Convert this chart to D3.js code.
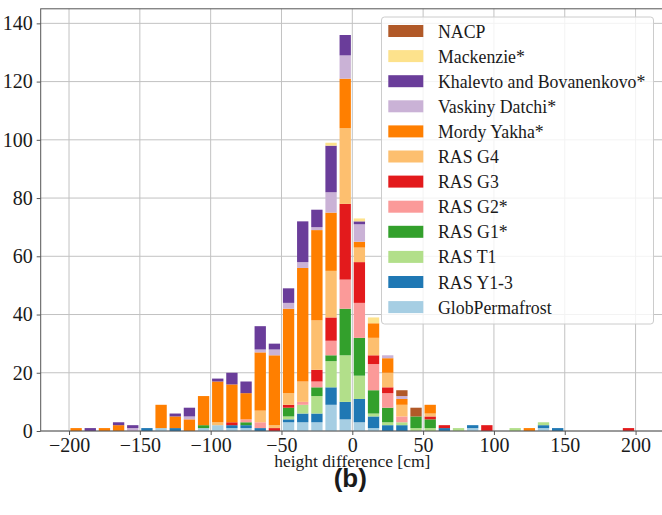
<!DOCTYPE html>
<html>
<head>
<meta charset="utf-8">
<script src="https://cdn.jsdelivr.net/npm/d3@7"></script>
<style>
    body { margin: 0; background: #fff; }
    svg text { font-family: "Liberation Serif", "Times New Roman", serif; fill: #1a1a1a; }
</style>
</head>
<body>
<svg id="chart" width="662" height="515"></svg>
<script>

// bin left edges, 10 cm wide
var binStarts = [-200, -190, -180, -170, -160, -150, -140, -130, -120, -110,
                 -100, -90, -80, -70, -60, -50, -40, -30, -20, -10,
                 0, 10, 20, 30, 40, 50, 60, 70, 80, 90,
                 100, 110, 120, 130, 140, 150, 160, 170, 180, 190];

// counts per bin, one array per site
var globPermafrost = [0,0,0,0,0,0,1,0,0,1, 2,1,1,0,0,3,3,3,9,4, 3,1,0,0,0,0,0,0,1,0, 0,0,0,1,0,0,0,0,0,0];
var rasY13         = [0,0,0,0,0,1,0,1,0,0, 0,1,1,1,0,1,3,3,6,6, 8,4,2,2,0,0,1,0,1,0, 0,0,0,1,1,0,0,0,0,0];
var rasT1          = [0,0,0,0,0,0,0,0,0,0, 0,0,0,0,0,1,3,6,9,16, 8,1,1,1,1,1,0,1,0,0, 0,1,0,1,0,0,0,0,0,0];
var rasG1          = [0,0,0,0,0,0,0,0,0,1, 0,0,1,0,0,3,0,3,2,16, 13,8,5,0,4,3,0,0,0,0, 0,0,0,0,0,0,0,0,0,0];
var rasG2          = [0,0,0,0,0,0,0,0,0,0, 0,0,1,2,0,0,1,2,5,10, 12,9,5,2,0,0,0,0,0,0, 0,0,0,0,0,0,0,0,0,0];
var rasG3          = [0,0,0,0,0,0,0,0,0,0, 0,1,0,0,1,1,0,4,8,26, 14,3,2,0,0,1,1,0,0,2, 0,0,0,0,0,0,0,0,0,1];
var rasG4          = [0,0,0,0,0,0,0,0,0,0, 1,0,0,4,1,4,7,17,16,26, 5,6,5,4,0,1,0,0,0,0, 0,0,0,0,0,0,0,0,0,0];
var mordyYakha     = [1,0,1,2,0,0,8,4,4,10, 14,13,9,20,24,29,39,31,20,17, 2,5,5,2,0,3,0,0,0,0, 0,0,1,0,0,0,0,0,0,0];
var vaskinyDatchi  = [0,0,0,0,1,0,0,0,1,0, 0,0,0,1,2,2,2,1,7,8, 6,0,1,1,0,0,0,0,0,0, 0,0,0,0,0,0,0,0,0,0];
var khalevto       = [0,1,0,1,1,0,0,1,3,0, 1,4,4,8,2,5,14,6,16,7, 1,0,0,0,0,0,0,0,0,0, 0,0,0,0,0,0,0,0,0,0];
var mackenzie      = [0,0,0,0,0,0,0,0,0,0, 0,0,0,0,0,0,0,0,1,0, 1,2,0,0,0,0,0,0,0,0, 0,0,0,0,0,0,0,0,0,0];
var nacp           = [0,0,0,0,0,0,0,0,0,0, 0,0,0,0,0,0,0,0,0,0, 0,0,0,2,3,0,0,0,0,0, 0,0,0,0,0,0,0,0,0,0];

// stacking order, bottom first
var seriesNames = ['GlobPermafrost', 'RAS Y1-3', 'RAS T1', 'RAS G1*', 'RAS G2*', 'RAS G3',
                   'RAS G4', 'Mordy Yakha*', 'Vaskiny Datchi*', 'Khalevto and Bovanenkovo*',
                   'Mackenzie*', 'NACP'];
var seriesValues = [globPermafrost, rasY13, rasT1, rasG1, rasG2, rasG3,
                    rasG4, mordyYakha, vaskinyDatchi, khalevto, mackenzie, nacp];
var seriesColors = ['#a6cee3', '#1f78b4', '#b2df8a', '#33a02c', '#fb9a99', '#e31a1c',
                    '#fdbf6f', '#ff7f00', '#cab2d6', '#6a3d9a', '#fde28c', '#b15928'];

var xTicks = [-200, -150, -100, -50, 0, 50, 100, 150, 200];
var yTicks = [0, 20, 40, 60, 80, 100, 120, 140];

var _svg = d3.select('#chart');
var _plot = {left: 40.7, right: 663.9, top: 8.8, bottom: 431};
var _binWidth = 10;

var x = d3.scaleLinear().domain([-220, 220]).range([_plot.left, _plot.right]);
var y = d3.scaleLinear().domain([0, 145]).range([_plot.bottom, _plot.top]);

// table for d3.stack
var table = binStarts.map(function (s, i) {
    var row = {start: s};
    seriesNames.forEach(function (name, k) {
        row[name] = seriesValues[k][i];
    });
    return row;
});
var stacked = d3.stack().keys(seriesNames)(table);

//---------------------------------------------------------------------------------------
// GRID
//---------------------------------------------------------------------------------------

var grid = _svg.append('g').attr('class', 'grid');
grid.selectAll('.vgrid')
    .data(xTicks)
  .enter().append('line')
    .attr('x1', function (d) { return x(d); })
    .attr('x2', function (d) { return x(d); })
    .attr('y1', _plot.top)
    .attr('y2', _plot.bottom)
    .style('stroke', '#c2c2c2')
    .style('stroke-width', 1);
grid.selectAll('.hgrid')
    .data(yTicks)
  .enter().append('line')
    .attr('x1', _plot.left)
    .attr('x2', _plot.right)
    .attr('y1', function (d) { return y(d); })
    .attr('y2', function (d) { return y(d); })
    .style('stroke', '#c2c2c2')
    .style('stroke-width', 1);

//---------------------------------------------------------------------------------------
// BARS
//---------------------------------------------------------------------------------------

var layers = _svg.append('g').selectAll('.layer')
    .data(stacked)
  .enter().append('g')
    .attr('class', 'layer')
    .style('fill', function (d, i) { return seriesColors[i]; });

layers.selectAll('rect')
    .data(function (d) { return d.filter(function (p) { return p[1] > p[0]; }); })
  .enter().append('rect')
    .attr('x', function (p) { return x(p.data.start + _binWidth * 0.1); })
    .attr('width', function (p) { return x(p.data.start + _binWidth * 0.9) - x(p.data.start + _binWidth * 0.1); })
    .attr('y', function (p) { return y(p[1]); })
    .attr('height', function (p) { return y(p[0]) - y(p[1]); });

//---------------------------------------------------------------------------------------
// AXES
//---------------------------------------------------------------------------------------

var xAxis = _svg.append('g')
    .attr('transform', 'translate(0,' + _plot.bottom + ')')
    .call(d3.axisBottom(x).tickValues(xTicks).tickSize(4).tickPadding(3));
var yAxis = _svg.append('g')
    .attr('transform', 'translate(' + _plot.left + ',0)')
    .call(d3.axisLeft(y).tickValues(yTicks).tickSize(4).tickPadding(4));

[xAxis, yAxis].forEach(function (ax) {
    ax.select('.domain').remove();
    ax.selectAll('line').style('stroke', '#555');
    ax.selectAll('text')
        .style('font-family', '"Liberation Serif", "Times New Roman", serif')
        .style('font-size', '20px')
        .style('fill', '#1a1a1a');
});

// frame
_svg.append('rect')
    .attr('x', _plot.left)
    .attr('y', _plot.top)
    .attr('width', _plot.right - _plot.left)
    .attr('height', _plot.bottom - _plot.top)
    .style('fill', 'none')
    .style('stroke', '#555')
    .style('stroke-width', 1);

_svg.append('text')
    .attr('x', x(0))
    .attr('y', 467)
    .style('text-anchor', 'middle')
    .style('font-size', '17.5px')
    .text('height difference [cm]');

_svg.append('text')
    .attr('x', x(0) - 2)
    .attr('y', 487)
    .style('text-anchor', 'middle')
    .style('font-family', '"Liberation Sans", Arial, sans-serif')
    .style('font-weight', 'bold')
    .style('font-size', '26px')
    .text('(b)');

//---------------------------------------------------------------------------------------
// LEGEND (top entry = top of stack)
//---------------------------------------------------------------------------------------

var legend = _svg.append('g').attr('class', 'legend');
legend.append('rect')
    .attr('x', 381.5)
    .attr('y', 17)
    .attr('width', 272)
    .attr('height', 307)
    .attr('rx', 3)
    .style('fill', 'white')
    .style('fill-opacity', 0.8)
    .style('stroke', '#cccccc');

var legendItems = seriesNames.slice().reverse();
var legendColors = seriesColors.slice().reverse();

var items = legend.selectAll('.item')
    .data(legendItems)
  .enter().append('g')
    .attr('class', 'item')
    .attr('transform', function (d, i) { return 'translate(0,' + (31 + 25.1 * i) + ')'; });

items.append('rect')
    .attr('x', 388.3)
    .attr('y', -6)
    .attr('width', 35)
    .attr('height', 12)
    .style('fill', function (d, i) { return legendColors[i]; });

items.append('text')
    .attr('x', 438)
    .attr('y', 6.5)
    .style('font-size', '17.8px')
    .text(function (d) { return d; });

</script>
